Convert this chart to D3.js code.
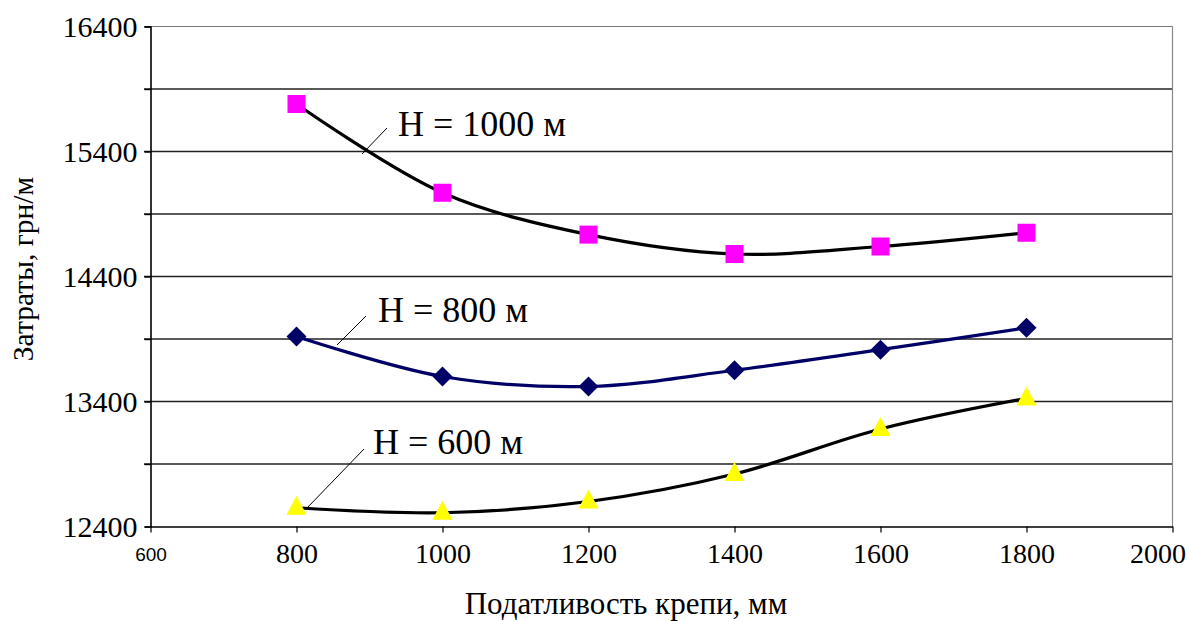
<!DOCTYPE html>
<html><head><meta charset="utf-8">
<script src="https://d3js.org/d3.v7.min.js"></script>
<style>body{margin:0;background:#fff}svg{display:block}
.serif{font-family:"Liberation Serif","Times New Roman",serif}
</style>
</head><body>
<script>
const xValues = [800, 1000, 1200, 1400, 1600, 1800];
const h1000 = [15780, 15070, 14735, 14580, 14640, 14750];
const h800 = [13920, 13600, 13520, 13650, 13815, 13990];
const h600 = [12550, 12510, 12600, 12820, 13180, 13425];
const seriesNames = ["H = 1000 м", "H = 800 м", "H = 600 м"];
const xTicks = [600, 800, 1000, 1200, 1400, 1600, 1800, 2000];
const yGrid = [12400, 12900, 13400, 13900, 14400, 14900, 15400, 15900, 16400];
const yLabels = [12400, 13400, 14400, 15400, 16400];
const xTitle = "Податливость крепи, мм";
const yTitle = "Затраты, грн/м";

const W = 1189, H = 621;
const svg = d3.select("body").append("svg").attr("width", W).attr("height", H);
const x = d3.scaleLinear().domain([600, 2000]).range([150.5, 1172.5]);
const y = d3.scaleLinear().domain([12400, 16400]).range([526.5, 26.5]);

// gridlines
svg.append("g").selectAll("line").data(yGrid.filter(v => v > 12400)).join("line")
  .attr("x1", 144).attr("x2", x(2000)).attr("y1", d => y(d)).attr("y2", d => y(d))
  .attr("stroke", d => d === 16400 ? "#777" : "#222").attr("stroke-width", d => d === 16400 ? 1 : 1.4);
svg.append("line").attr("x1", x(2000)).attr("x2", x(2000)).attr("y1", y(16400)).attr("y2", y(12400))
  .attr("stroke", "#888").attr("stroke-width", 1.2);

// y axis
const yAxis = svg.append("g").attr("transform", `translate(${x(600)},0)`)
  .call(d3.axisLeft(y).tickValues(yGrid).tickSize(6).tickFormat(d => yLabels.includes(d) ? String(d) : ""));
yAxis.attr("font-family", null).attr("font-size", null);
yAxis.select(".domain").attr("stroke", "#000").attr("stroke-width", 1.6);
yAxis.selectAll(".tick line").attr("stroke", "#000").attr("stroke-width", 1.4);
yAxis.selectAll(".tick text").attr("class", "serif").style("font-size", "30px").attr("fill", "#000")
  .attr("x", -13).attr("dy", "0.34em");

// x axis
const xAxis = svg.append("g").attr("transform", `translate(0,${y(12400)})`)
  .call(d3.axisBottom(x).tickValues(xTicks).tickSize(6).tickSizeOuter(0).tickFormat(d => String(d)));
xAxis.attr("font-family", null).attr("font-size", null);
xAxis.select(".domain").attr("stroke", "#000").attr("stroke-width", 1.6);
xAxis.selectAll(".tick line").attr("stroke", "#000").attr("stroke-width", 1.2);
xAxis.selectAll(".tick text").attr("fill", "#000").attr("dy", 0)
  .attr("class", d => d === 600 ? null : "serif")
  .style("font-family", d => d === 600 ? "'Liberation Sans',Arial,sans-serif" : null)
  .style("font-size", d => d === 600 ? "19px" : "28px")
  .attr("y", d => d === 600 ? 34 : 36)
  .attr("text-anchor", d => d === 2000 ? "end" : "middle")
  .attr("x", d => d === 2000 ? 13 : 0);

// lines
const line = d3.line().x(d => x(d[0])).y(d => y(d[1])).curve(d3.curveCatmullRom.alpha(0.5));
const series = [
  {name: seriesNames[0], vals: h1000, stroke: "#000", marker: "square", fill: "#ff00ff"},
  {name: seriesNames[1], vals: h800, stroke: "#000066", marker: "diamond", fill: "#000066"},
  {name: seriesNames[2], vals: h600, stroke: "#000", marker: "triangle", fill: "#ffff00"}
];
series.forEach(s => {
  const pts = xValues.map((v, i) => [v, s.vals[i]]);
  svg.append("path").datum(pts).attr("d", line).attr("fill", "none")
    .attr("stroke", s.stroke).attr("stroke-width", 3.2);
});
series.forEach(s => {
  const pts = xValues.map((v, i) => [v, s.vals[i]]);
  const g = svg.append("g");
  pts.forEach(p => {
    const cx = x(p[0]), cy = y(p[1]);
    if (s.marker === "square") {
      g.append("rect").attr("x", cx - 9).attr("y", cy - 9).attr("width", 18).attr("height", 18).attr("fill", s.fill);
    } else if (s.marker === "diamond") {
      g.append("path").attr("d", `M${cx},${cy-10}L${cx+10},${cy}L${cx},${cy+10}L${cx-10},${cy}Z`).attr("fill", s.fill);
    } else {
      g.append("path").attr("d", `M${cx},${cy-12}L${cx+10},${cy+7}L${cx-10},${cy+7}Z`).attr("fill", s.fill);
    }
  });
});

// labels with leader lines
const labels = [
  {text: seriesNames[0], tx: 398, ty: 136, l: [362, 154, 387, 128]},
  {text: seriesNames[1], tx: 378, ty: 322, l: [337, 345, 366, 316]},
  {text: seriesNames[2], tx: 373, ty: 454, l: [307, 508, 364, 449]}
];
labels.forEach(L => {
  svg.append("line").attr("x1", L.l[0]).attr("y1", L.l[1]).attr("x2", L.l[2]).attr("y2", L.l[3])
    .attr("stroke", "#000").attr("stroke-width", 1);
  svg.append("text").attr("class", "serif").attr("x", L.tx).attr("y", L.ty).text(L.text)
    .style("font-size", "36px").attr("fill", "#000");
});

// titles
svg.append("text").attr("class", "serif").attr("x", 626).attr("y", 614).attr("text-anchor", "middle")
  .style("font-size", "31px").text(xTitle);
svg.append("text").attr("class", "serif").attr("transform", "translate(33,269) rotate(-90)").attr("text-anchor", "middle")
  .style("font-size", "29.5px").text(yTitle);
</script>
</body></html>
